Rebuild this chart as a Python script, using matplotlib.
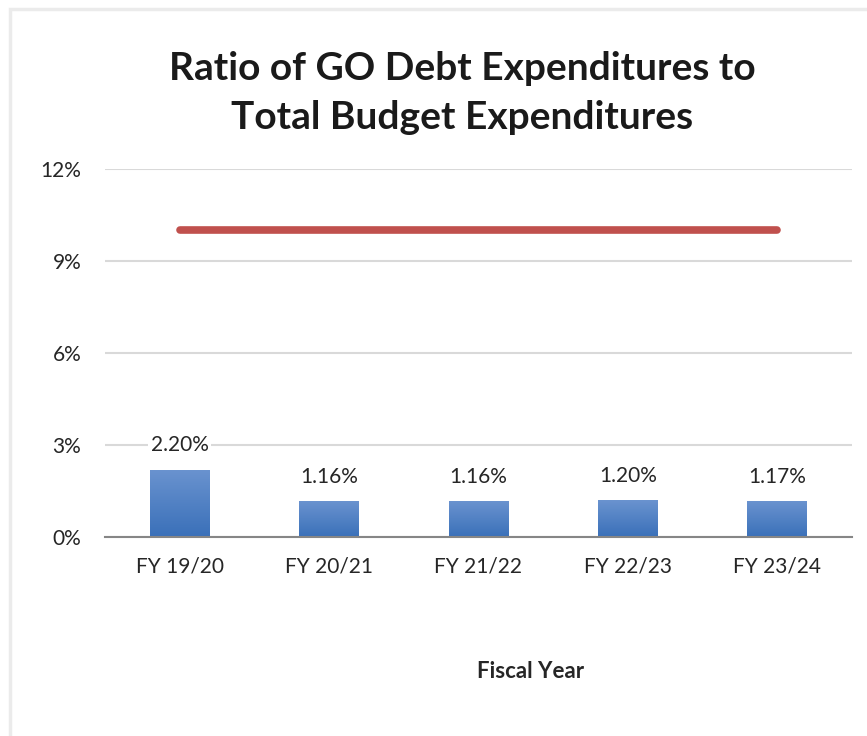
import numpy as np
import matplotlib.pyplot as plt
from matplotlib.patches import Rectangle
from matplotlib.colors import LinearSegmentedColormap

# Datos del grafico
years = ['FY 19/20', 'FY 20/21', 'FY 21/22', 'FY 22/23', 'FY 23/24']
ratios = [2.20, 1.16, 1.16, 1.20, 1.17]
limit = 10.0
yticks = [0, 3, 6, 9, 12]

plt.rcParams['font.family'] = ['Lato', 'DejaVu Sans']

fig = plt.figure(figsize=(8.67, 7.36), dpi=100)
W, H = 867, 736

# borde gris claro alrededor
fig.patches.append(Rectangle((10 / W, -0.1), 1.0, 1.1 - 9 / H, transform=fig.transFigure,
                             fill=False, edgecolor='#ebebeb', linewidth=2.5))

ax = fig.add_axes([105 / W, 1 - 537 / H, 747 / W, 368 / H])
x = np.arange(len(years))

bars = ax.bar(x, ratios, width=0.4, color='#4a7fc4', zorder=2)
# degradado en las barras
grad = np.linspace(0, 1, 100).reshape(-1, 1)
cmap = LinearSegmentedColormap.from_list('b', ['#3a70b9', '#6a93cf'])
for b in bars:
    im = ax.imshow(grad, cmap=cmap, origin='lower', aspect='auto',
                   extent=[b.get_x(), b.get_x() + b.get_width(), 0, b.get_height()],
                   zorder=3)
    im.set_clip_path(b)

ax.plot([x[0], x[-1]], [limit, limit], color='#c0504d', linewidth=5.5,
        solid_capstyle='round', zorder=4)

for xi, v in zip(x, ratios):
    ax.text(xi, v + 0.8, '{:.2f}%'.format(v), ha='center', va='center',
            fontsize=15, color='#262626', zorder=5,
            bbox=dict(facecolor='white', edgecolor='none', pad=2))

ax.set_xlim(-0.5, len(years) - 0.5)
ax.set_ylim(0, 12)
ax.set_yticks(yticks)
ax.set_yticklabels(['{}%'.format(t) for t in yticks], fontsize=15, color='#262626')
ax.set_xticks(x)
ax.set_xticklabels(years, fontsize=15, color='#262626')
ax.tick_params(length=0, pad=14)
ax.tick_params(axis='y', pad=17)
ax.yaxis.grid(True, color='#d9d9d9', linewidth=1.5, zorder=0)
ax.set_axisbelow(True)
for s in ['top', 'right', 'left']:
    ax.spines[s].set_visible(False)
ax.spines['bottom'].set_color('#868686')
ax.spines['bottom'].set_linewidth(1.5)
ax.spines['bottom'].set_zorder(6)

fig.text(462 / W, 1 - 93 / H, 'Ratio of GO Debt Expenditures to\nTotal Budget Expenditures',
         ha='center', va='center', fontsize=28, fontweight='bold', color='#1a1a1a',
         linespacing=1.45)
fig.text(531 / W, 1 - 671 / H, 'Fiscal Year', ha='center', va='center',
         fontsize=16, fontweight='bold', color='#262626')

plt.savefig('out.png', dpi=100)
